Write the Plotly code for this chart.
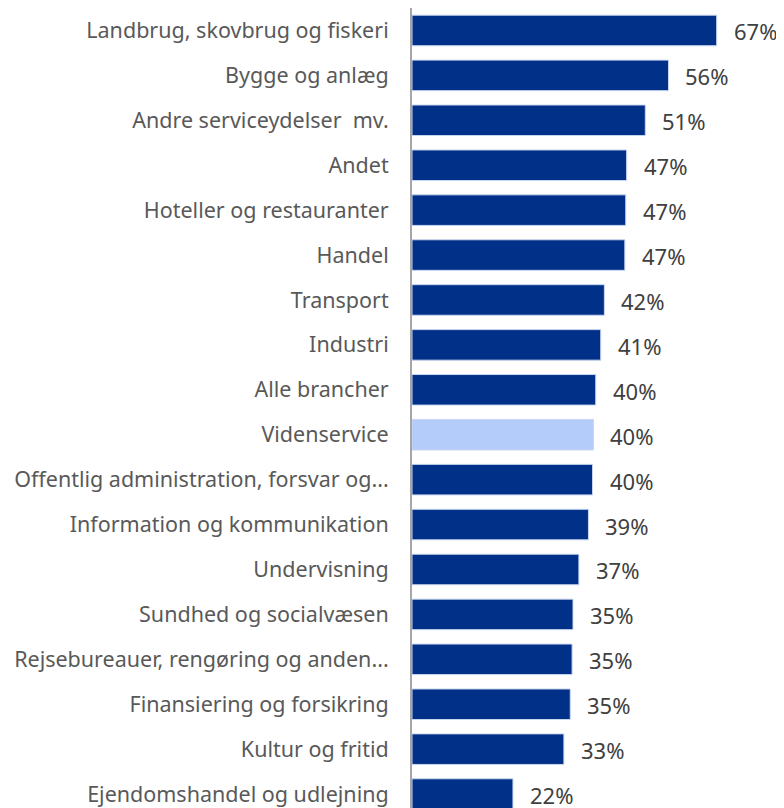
import plotly.graph_objects as go

categories = [
    "Landbrug, skovbrug og fiskeri",
    "Bygge og anlæg",
    "Andre serviceydelser  mv.",
    "Andet",
    "Hoteller og restauranter",
    "Handel",
    "Transport",
    "Industri",
    "Alle brancher",
    "Videnservice",
    "Offentlig administration, forsvar og...",
    "Information og kommunikation",
    "Undervisning",
    "Sundhed og socialvæsen",
    "Rejsebureauer, rengøring og anden...",
    "Finansiering og forsikring",
    "Kultur og fritid",
    "Ejendomshandel og udlejning",
]
values = [67.0, 56.4, 51.3, 47.2, 47.0, 46.8, 42.3, 41.5, 40.4, 39.9, 39.7, 38.8, 36.7, 35.4, 35.2, 34.8, 33.4, 22.2]
labels = ["67%", "56%", "51%", "47%", "47%", "47%", "42%", "41%", "40%", "40%", "40%", "39%", "37%", "35%", "35%", "35%", "33%", "22%"]
highlight = "Videnservice"

colors = ["#B4CCFA" if c == highlight else "#003087" for c in categories]

fig = go.Figure(go.Bar(
    x=values,
    y=categories,
    orientation="h",
    marker=dict(color=colors, line=dict(color="#C9D6F0", width=1)),
    width=0.68,
    cliponaxis=False,
    hoverinfo="skip",
))

for c, v, t in zip(categories, values, labels):
    fig.add_annotation(
        x=v, y=c, text=t, showarrow=False,
        xanchor="left", yanchor="middle", xshift=15, yshift=-1,
        font=dict(family="Noto Sans", size=22, color="#404040"),
    )

fig.update_layout(
    width=776,
    height=800,
    margin=dict(l=404, r=0, t=0, b=0, autoexpand=False),
    paper_bgcolor="white",
    plot_bgcolor="white",
    font=dict(family="Noto Sans", size=21.5, color="#595959"),
    showlegend=False,
)
fig.update_xaxes(range=[0, 81.8], visible=False, showgrid=False, automargin=False)
fig.update_yaxes(
    categoryorder="array",
    categoryarray=categories,
    range=[17.31, -0.5],
    showline=True,
    linecolor="#A6A6A6",
    linewidth=2,
    ticks="",
    ticklabelstandoff=17,
    showgrid=False,
    automargin=False,
    tickfont=dict(family="Noto Sans", size=21.5, color="#595959"),
)

fig.write_html("out.html")
